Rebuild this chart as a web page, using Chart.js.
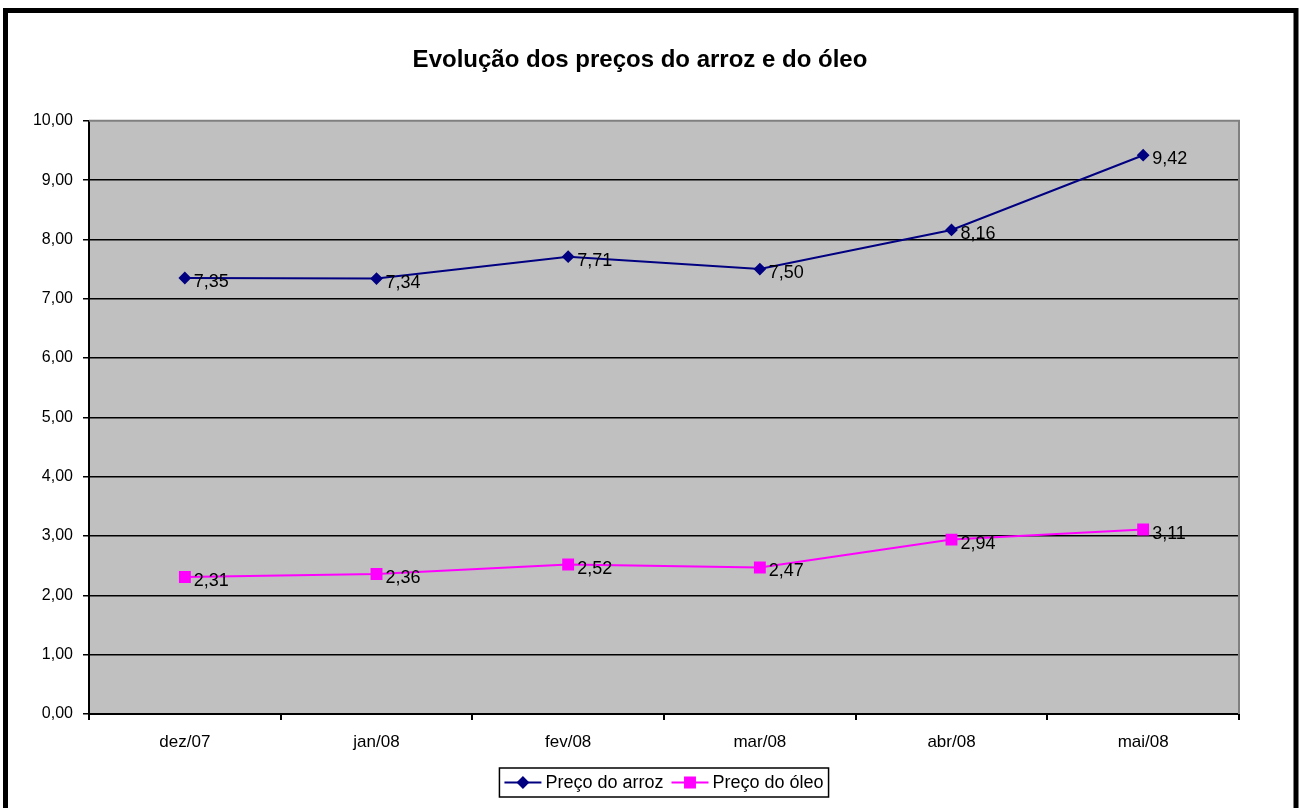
<!DOCTYPE html>
<html>
<head>
<meta charset="utf-8">
<script src="https://cdn.jsdelivr.net/npm/chart.js@4/dist/chart.umd.min.js"></script>
<style>
  body { margin: 0; background: #fff; }
  #wrap { width: 1299px; height: 808px; position: relative; }
</style>
</head>
<body>
<div id="wrap"><canvas id="chart"></canvas></div>
<script>
// categories (months) and the two price series
var months = ["dez/07", "jan/08", "fev/08", "mar/08", "abr/08", "mai/08"];
var arrozPrices = [7.35, 7.34, 7.71, 7.50, 8.16, 9.42];
var oleoPrices = [2.31, 2.36, 2.52, 2.47, 2.94, 3.11];
var yTicks = [0, 1, 2, 3, 4, 5, 6, 7, 8, 9, 10];

var chartTitle = "Evolução dos preços do arroz e do óleo";
var arrozLabel = "Preço do arroz";
var oleoLabel = "Preço do óleo";

var FONT = "Arial, 'Liberation Sans', sans-serif";

// number format with comma decimals, like the original sheet
function fmt(v) {
  return Number(v).toFixed(2).replace(".", ",");
}

// gray plot area, drawn before the grid
var plotBackground = {
  id: "plotBackground",
  beforeDraw: function (chart) {
    var a = chart.chartArea, ctx = chart.ctx;
    ctx.save();
    ctx.fillStyle = "#C0C0C0";
    ctx.fillRect(a.left, a.top, a.right - a.left, a.bottom - a.top);
    ctx.restore();
  },
  afterDraw: function (chart) {
    var a = chart.chartArea, ctx = chart.ctx;
    ctx.save();
    // gray border on top and right of the plot
    ctx.strokeStyle = "#808080";
    ctx.lineWidth = 2;
    ctx.beginPath();
    ctx.moveTo(a.left, a.top);
    ctx.lineTo(a.right, a.top);
    ctx.lineTo(a.right, a.bottom);
    ctx.stroke();
    // thick outer frame
    ctx.strokeStyle = "#000";
    ctx.lineWidth = 5;
    ctx.strokeRect(5.5, 10.5, 1290.5, 810);
    ctx.restore();
  }
};

// value labels to the right of each point
var valueLabels = {
  id: "valueLabels",
  afterDatasetsDraw: function (chart) {
    var ctx = chart.ctx;
    ctx.save();
    ctx.font = "18px " + FONT;
    ctx.fillStyle = "#000";
    ctx.textAlign = "left";
    ctx.textBaseline = "alphabetic";
    chart.data.datasets.forEach(function (ds, i) {
      var meta = chart.getDatasetMeta(i);
      meta.data.forEach(function (pt, j) {
        ctx.fillText(fmt(ds.data[j]), pt.x + 9, pt.y + 9);
      });
    });
    ctx.restore();
  }
};

// boxed legend centred under the plot
var boxLegend = {
  id: "boxLegend",
  afterDraw: function (chart) {
    var ctx = chart.ctx, a = chart.chartArea;
    var cx = (a.left + a.right) / 2, cy = 782.5;
    ctx.save();
    ctx.font = "18px " + FONT;
    var sample = 37, gap = 4, sep = 8, pad = 5;
    var items = chart.data.datasets.map(function (ds) {
      return { ds: ds, w: ctx.measureText(ds.label).width };
    });
    var total = pad * 2;
    items.forEach(function (it, i) {
      total += sample + gap + it.w + (i > 0 ? sep : 0);
    });
    var x = cx - total / 2;
    ctx.fillStyle = "#fff";
    ctx.fillRect(x, cy - 14.5, total, 29);
    ctx.strokeStyle = "#000";
    ctx.lineWidth = 1.5;
    ctx.strokeRect(x, cy - 14.5, total, 29);
    x += pad;
    items.forEach(function (it, i) {
      if (i > 0) x += sep;
      var ds = it.ds;
      ctx.strokeStyle = ds.borderColor;
      ctx.lineWidth = 2;
      ctx.beginPath();
      ctx.moveTo(x, cy);
      ctx.lineTo(x + sample, cy);
      ctx.stroke();
      Chart.helpers.drawPoint(ctx, {
        pointStyle: ds.pointStyle,
        radius: ds.pointRadius,
        rotation: 0,
        borderWidth: 1
      }, x + sample / 2, cy);
      ctx.fillStyle = ds.pointBackgroundColor;
      ctx.fill();
      x += sample + gap;
      ctx.fillStyle = "#000";
      ctx.textAlign = "left";
      ctx.textBaseline = "middle";
      ctx.fillText(ds.label, x, cy + 1);
      x += it.w;
    });
    ctx.restore();
  }
};

var ctx = document.getElementById("chart").getContext("2d");

var myChart = new Chart(ctx, {
  type: "line",
  data: {
    labels: months,
    datasets: [
      {
        label: arrozLabel,
        data: arrozPrices,
        borderColor: "#000080",
        backgroundColor: "#000080",
        pointBackgroundColor: "#000080",
        pointBorderColor: "#000080",
        pointStyle: "rectRot",
        pointRadius: 5,
        borderWidth: 2,
        tension: 0,
        fill: false
      },
      {
        label: oleoLabel,
        data: oleoPrices,
        borderColor: "#FF00FF",
        backgroundColor: "#FF00FF",
        pointBackgroundColor: "#FF00FF",
        pointBorderColor: "#FF00FF",
        pointStyle: "rect",
        pointRadius: 7,
        borderWidth: 2,
        tension: 0,
        fill: false
      }
    ]
  },
  options: {
    responsive: true,
    maintainAspectRatio: false,
    animation: false,
    layout: {
      padding: { left: 0, right: 19, top: 0, bottom: 0 }
    },
    plugins: {
      legend: { display: false },
      tooltip: { enabled: false },
      title: {
        display: true,
        text: chartTitle,
        color: "#000",
        font: { family: FONT, size: 24, weight: "bold", lineHeight: 1.2 },
        padding: { top: 46, bottom: 46 }
      }
    },
    scales: {
      x: {
        offset: true,
        grid: {
          offset: true,
          drawOnChartArea: false,
          drawTicks: true,
          tickLength: 6,
          color: "#000",
          lineWidth: 2
        },
        border: { color: "#000", width: 2 },
        ticks: {
          color: "#000",
          padding: 12,
          maxRotation: 0,
          font: { family: FONT, size: 17 }
        },
        afterFit: function (scale) {
          scale.height = 94;
        }
      },
      y: {
        min: 0,
        max: 10,
        afterBuildTicks: function (scale) {
          scale.ticks = yTicks.map(function (v) { return { value: v }; });
        },
        grid: {
          color: function (c) {
            return c.tick && c.tick.value === 10 ? "rgba(0,0,0,0)" : "#000";
          },
          tickColor: "#000",
          lineWidth: 1.5,
          tickLength: 6
        },
        border: { color: "#000", width: 2 },
        ticks: {
          color: "#000",
          padding: 10,
          font: { family: FONT, size: 16 },
          callback: function (v) { return fmt(v); }
        },
        afterFit: function (scale) {
          scale.width = 89;
        }
      },
      // empty spacer on the right so the plot ends where the original does
      spacer: {
        type: "linear",
        position: "right",
        grid: { display: false },
        border: { display: false },
        ticks: { display: false },
        afterFit: function (scale) {
          scale.width = 41;
        }
      }
    }
  },
  plugins: [plotBackground, valueLabels, boxLegend]
});
</script>
</body>
</html>
